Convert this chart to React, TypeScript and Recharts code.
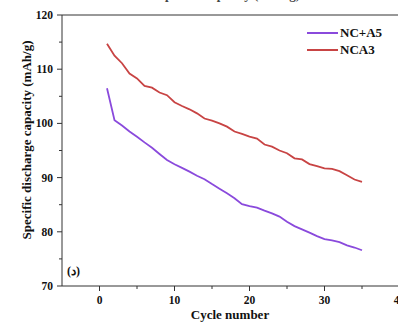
import React from 'react';
import { LineChart, Line, XAxis, YAxis, ReferenceLine } from 'recharts';

const cycles = [
  1, 2, 3, 4, 5, 6, 7, 8, 9, 10, 11, 12, 13, 14, 15, 16, 17, 18, 19, 20, 21, 22, 23, 24, 25, 26, 27, 28,
  29, 30, 31, 32, 33, 34, 35,
];
const ncA5 = [
  106.5, 100.6, 99.6, 98.5, 97.55, 96.5, 95.5, 94.35, 93.25, 92.45, 91.8, 91.1, 90.35, 89.7, 88.8, 87.95,
  87.1, 86.2, 85.1, 84.75, 84.45, 83.9, 83.4, 82.8, 81.85, 81.05, 80.45, 79.85, 79.2, 78.65, 78.4, 78.1,
  77.5, 77.1, 76.6,
];
const nca3 = [
  114.7, 112.5, 111.1, 109.2, 108.3, 106.9, 106.6, 105.7, 105.2, 103.9, 103.2, 102.6, 101.85, 100.9, 100.5,
  100.0, 99.4, 98.5, 98.05, 97.55, 97.2, 96.1, 95.7, 95.0, 94.5, 93.55, 93.35, 92.5, 92.1, 91.7, 91.6, 91.2,
  90.45, 89.65, 89.2,
];
const xTicks = [0, 5, 10, 15, 20, 25, 30, 35, 40];
const xLabels = [0, 10, 20, 30, 40];
const yTicks = [70, 75, 80, 85, 90, 95, 100, 105, 110, 115, 120];
const yLabels = [70, 80, 90, 100, 110, 120];

const PURPLE = '#8a4adc';
const RED = '#c84444';
const FONT = '"Liberation Serif", "Times New Roman", serif';

const data = cycles.map((c, i) => ({ cycle: c, a5: ncA5[i], nca3: nca3[i] }));

const XTick = (props: any) => {
  const { x, y, payload } = props;
  const major = xLabels.includes(payload.value);
  return (
    <g>
      <line x1={x} y1={y} x2={x} y2={y + (major ? 5 : 3)} stroke='#333' strokeWidth={1} />
      {major && (
        <text x={x} y={y + 18} textAnchor='middle' fontFamily={FONT} fontWeight='bold' fontSize={11.5} fill='#111'>
          {payload.value}
        </text>
      )}
    </g>
  );
};

const YTick = (props: any) => {
  const { x, y, payload } = props;
  const major = yLabels.includes(payload.value);
  return (
    <g>
      <line x1={x} y1={y} x2={x - (major ? 5 : 3)} y2={y} stroke='#333' strokeWidth={1} />
      {major && (
        <text x={x - 9} y={y + 4} textAnchor='end' fontFamily={FONT} fontWeight='bold' fontSize={11.5} fill='#111'>
          {payload.value}
        </text>
      )}
    </g>
  );
};

const LegendBox = () => (
  <svg width={90} height={40} style={{ position: 'absolute', left: 306, top: 25 }}>
    <line x1={1} y1={8} x2={32} y2={8} stroke={PURPLE} strokeWidth={2} />
    <text x={34} y={12} fontFamily={FONT} fontWeight='bold' fontSize={13} fill='#111'>
      NC+A5
    </text>
    <line x1={1} y1={25} x2={32} y2={25} stroke={RED} strokeWidth={2} />
    <text x={34} y={29} fontFamily={FONT} fontWeight='bold' fontSize={13} fill='#111'>
      NCA3
    </text>
  </svg>
);

export default function App() {
  return (
    <div style={{ position: 'absolute', left: 0, top: 0, width: 398, height: 322, overflow: 'hidden', background: '#fff' }}>
      <LineChart width={420} height={322} data={data} margin={{ top: 15, right: 20.5, left: 22, bottom: 6 }}>
        <XAxis
          dataKey='cycle'
          type='number'
          domain={[-5, 40]}
          ticks={xTicks}
          interval={0}
          tickSize={0}
          tickMargin={0}
          tick={<XTick />}
          height={30}
          stroke='#333'
          allowDataOverflow
        />
        <YAxis
          type='number'
          domain={[70, 120]}
          ticks={yTicks}
          interval={0}
          tickSize={0}
          tickMargin={0}
          tick={<YTick />}
          width={40}
          stroke='#333'
          allowDataOverflow
        />
        <ReferenceLine y={120} stroke='#333' strokeWidth={1} />
        <Line type='linear' dataKey='a5' stroke={PURPLE} strokeWidth={1.8} dot={false} isAnimationActive={false} />
        <Line type='linear' dataKey='nca3' stroke={RED} strokeWidth={1.8} dot={false} isAnimationActive={false} />
      </LineChart>
      <LegendBox />
      <svg width={398} height={322} style={{ position: 'absolute', left: 0, top: 0, pointerEvents: 'none' }}>
        <text x={229} y={-1.5} textAnchor='middle' fontFamily={FONT} fontWeight='bold' fontSize={13} fill='#444'>
          Specific capacity (mAh/g)
        </text>
        <text
          x={31}
          y={140}
          transform='rotate(-90 31 140)'
          textAnchor='middle'
          fontFamily={FONT}
          fontWeight='bold'
          fontSize={13}
          fill='#111'
        >
          Specific discharge capacity (mAh/g)
        </text>
        <text x={230} y={319} textAnchor='middle' fontFamily={FONT} fontWeight='bold' fontSize={13} fill='#111'>
          Cycle number
        </text>
        <text x={67} y={275} fontFamily={FONT} fontWeight='bold' fontSize={12} fill='#111'>
          (د)
        </text>
      </svg>
    </div>
  );
}
